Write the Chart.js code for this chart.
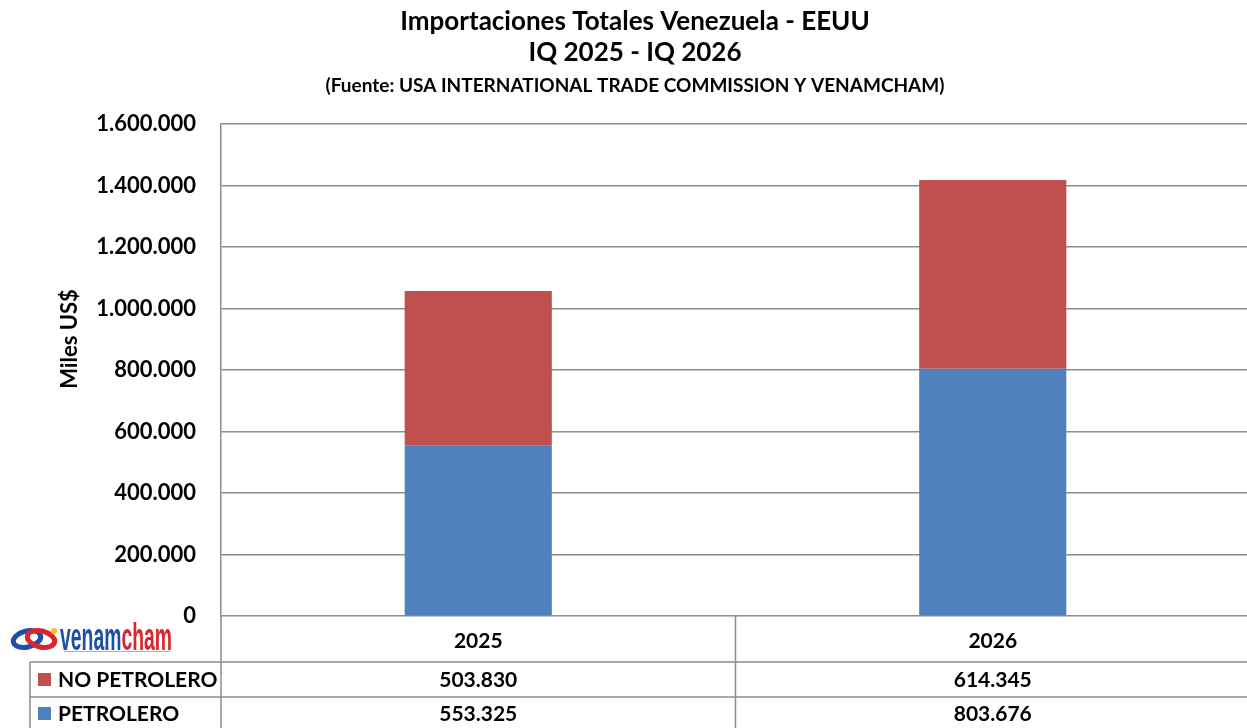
<!DOCTYPE html>
<html>
<head>
<meta charset="utf-8">
<script src="https://cdn.jsdelivr.net/npm/chart.js@4/dist/chart.umd.min.js"></script>
<style>
  html, body { margin: 0; padding: 0; background: #fff; overflow: hidden; }
  #wrap { width: 1247px; height: 728px; overflow: hidden; }
</style>
</head>
<body>
<div id="wrap"><canvas id="chart" width="1250" height="728"></canvas></div>
<script>
const years = ["2025", "2026"];
const petrolero = [553325, 803676];
const noPetrolero = [503830, 614345];
const yTicks = [0, 200000, 400000, 600000, 800000, 1000000, 1200000, 1400000, 1600000];

const BLUE = "#4F81BD";
const RED = "#C0504D";
const GRID = "#8c8c8c";
const FONT = "Lato, 'Open Sans', sans-serif";

function fmt(n) {
  return String(n).replace(/\B(?=(\d{3})+(?!\d))/g, ".");
}

// title, axis title, data table and logo drawn on top of the chart
const extras = {
  id: "extras",
  afterDraw(chart) {
    const ctx = chart.ctx;
    const x = chart.scales.x;
    const area = chart.chartArea;
    ctx.save();

    // titles
    ctx.fillStyle = "#000";
    ctx.textAlign = "center";
    ctx.textBaseline = "middle";
    ctx.font = "bold 26px " + FONT;
    ctx.fillText("Importaciones Totales Venezuela - EEUU", 635, 22);
    ctx.fillText("IQ 2025 - IQ 2026", 635, 53);
    ctx.font = "bold 19px " + FONT;
    ctx.fillText("(Fuente: USA INTERNATIONAL TRADE COMMISSION Y VENAMCHAM)", 635, 86);

    // y axis title
    ctx.save();
    ctx.translate(70, 339);
    ctx.rotate(-Math.PI / 2);
    ctx.font = "bold 22px " + FONT;
    ctx.fillText("Miles US$", 0, 0);
    ctx.restore();

    // table lines
    const mid = (x.getPixelForValue(0) + x.getPixelForValue(1)) / 2;
    ctx.strokeStyle = GRID;
    ctx.lineWidth = 1.5;
    ctx.beginPath();
    ctx.moveTo(area.left, area.bottom); ctx.lineTo(area.left, 728);
    ctx.moveTo(mid, area.bottom); ctx.lineTo(mid, 728);
    ctx.moveTo(30, 662); ctx.lineTo(1250, 662);
    ctx.moveTo(30, 697); ctx.lineTo(1250, 697);
    ctx.moveTo(30, 662); ctx.lineTo(30, 728);
    ctx.stroke();

    // table rows
    const rows = [
      { label: "NO PETROLERO", color: RED, values: noPetrolero, y: 680 },
      { label: "PETROLERO", color: BLUE, values: petrolero, y: 714 }
    ];
    rows.forEach(r => {
      ctx.fillStyle = r.color;
      ctx.fillRect(38, r.y - 7, 13, 13);
      ctx.fillStyle = "#000";
      ctx.font = "bold 21px " + FONT;
      ctx.textAlign = "left";
      ctx.fillText(r.label, 58, r.y);
      ctx.textAlign = "center";
      r.values.forEach((v, i) => ctx.fillText(fmt(v), x.getPixelForValue(i), r.y));
    });

    // venamcham logo (approximation)
    ctx.save();
    ctx.translate(10, 626);
    ctx.lineWidth = 5;
    ctx.strokeStyle = "#1f4ea8";
    ctx.beginPath(); ctx.ellipse(17, 13, 14, 8, -0.25, 0, Math.PI * 2); ctx.stroke();
    ctx.strokeStyle = "#d9262e";
    ctx.beginPath(); ctx.ellipse(31, 13, 14, 8, 0.25, 0, Math.PI * 2); ctx.stroke();
    ctx.fillStyle = "#f2c515";
    ctx.beginPath(); ctx.arc(44, 5, 3, 0, Math.PI * 2); ctx.fill();
    ctx.restore();

    ctx.save();
    ctx.font = "bold 38px 'Liberation Sans', sans-serif";
    const w1 = ctx.measureText("venam").width;
    const w2 = ctx.measureText("cham").width;
    const sx = 112 / (w1 + w2);
    ctx.translate(60, 650);
    ctx.scale(sx, 1);
    ctx.textAlign = "left";
    ctx.textBaseline = "alphabetic";
    ctx.fillStyle = "#1f4ea8";
    ctx.fillText("venam", 0, 0);
    ctx.fillStyle = "#d9262e";
    ctx.fillText("cham", w1, 0);
    ctx.restore();
    ctx.fillStyle = "#9fb3d9";
    ctx.fillRect(64, 651, 106, 1);

    ctx.restore();
  }
};

new Chart(document.getElementById("chart"), {
  type: "bar",
  data: {
    labels: years,
    datasets: [
      { label: "PETROLERO", data: petrolero, backgroundColor: BLUE, barPercentage: 0.286, categoryPercentage: 1 },
      { label: "NO PETROLERO", data: noPetrolero, backgroundColor: RED, barPercentage: 0.286, categoryPercentage: 1 }
    ]
  },
  options: {
    responsive: false,
    animation: false,
    devicePixelRatio: 1,
    layout: { padding: { top: 124, left: 0, right: 0, bottom: 0 } },
    plugins: {
      legend: { display: false },
      title: { display: false },
      tooltip: { enabled: false }
    },
    scales: {
      x: {
        stacked: true,
        grid: { display: false },
        border: { display: false },
        ticks: { color: "#000", font: { family: FONT, size: 21, weight: "bold" }, padding: 5 },
        afterFit(scale) { scale.height = 112; }
      },
      y: {
        stacked: true,
        min: 0,
        max: 1600000,
        afterBuildTicks(scale) { scale.ticks = yTicks.map(v => ({ value: v })); },
        grid: { color: GRID, lineWidth: 1.5, drawTicks: false },
        border: { display: true, color: GRID, width: 1.5 },
        ticks: {
          color: "#000",
          font: { family: FONT, size: 22, weight: "bold" },
          padding: 25,
          callback: v => fmt(v)
        },
        afterFit(scale) { scale.width = 221; }
      }
    }
  },
  plugins: [extras]
});
</script>
</body>
</html>
